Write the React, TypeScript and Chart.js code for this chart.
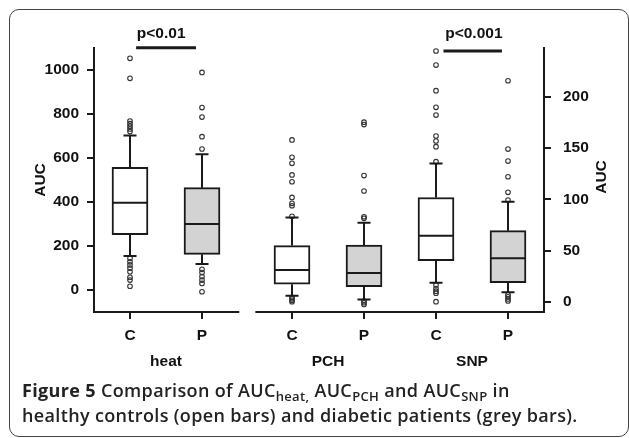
import React, { useEffect, useRef } from 'react';
import { Chart, registerables } from 'chart.js';

Chart.register(...registerables);

// ---------- data ----------
const groupLabels = ['heat', 'PCH', 'SNP'];
const groupCenters = [1.5, 3.75, 5.75];
const xTickLabels = ['C', 'P', 'C', 'P', 'C', 'P'];
const boxPositions = [1, 2, 3.25, 4.25, 5.25, 6.25];
const leftTicks = [0, 200, 400, 600, 800, 1000];
const rightTicks = [0, 50, 100, 150, 200];
const axisSegments = [[0.5, 2.504], [2.755, 6.75]];

// left axis boxes: heat C, heat P, PCH C, PCH P
const leftBoxIndex = [0, 1, 2, 3];
const leftLowerWhisker = [155, 118, -26, -43];
const leftQ1 = [251, 162, 26, 15];
const leftMedian = [397, 300, 91, 77];
const leftQ3 = [558, 465, 202, 204];
const leftUpperWhisker = [702, 617, 329, 306];

// right axis boxes: SNP C, SNP P
const rightBoxIndex = [4, 5];
const rightLowerWhisker = [18.8, 9.4];
const rightQ1 = [40.2, 18.8];
const rightMedian = [64.6, 42.5];
const rightQ3 = [101.8, 69.5];
const rightUpperWhisker = [135, 97.7];

// outliers
const outliersHeatC = [1053, 962, 768, 756, 744, 732, 720, 144, 128, 114, 99, 83, 58, 45, 17];
const outliersHeatP = [989, 829, 786, 697, 641, 94, 79, 61, 45, 30, -8];
const outliersPchC = [682, 603, 576, 523, 492, 421, 394, 383, 335, -33, -40, -47, -53];
const outliersPchP = [763, 752, 520, 450, 333, 326, -50, -58, -66];
const outliersSnpC = [244.5, 230.8, 205.8, 189.6, 182.1, 161.7, 156.8, 151.3, 136.7, 16.6, 13, 10.5, 8.5, 0.3];
const outliersSnpP = [215.5, 149, 137.3, 122, 106.8, 99.3, 7, 5, 3, 1];

// significance annotations
const sigLabels = ['p<0.01', 'p<0.001'];
const sigAxis = ['y', 'y2'];
const sigStart = [1.085, 5.354];
const sigEnd = [1.916, 6.166];
const sigLineValue = [1101, 244.5];
const sigTextCenter = [1.433, 5.776];
const sigTextValue = [1166, 261];

// ---------- styles ----------
const INK = '#1a1a1a';
const TEXT = '#111';
const OPEN_FILL = '#ffffff';
const GREY_FILL = '#d3d3d3';
const BOX_WIDTH = 36;
const CAP_HALF = 6.5;
const FONT_FAMILY = '"Liberation Sans", Arial, Helvetica, sans-serif';
const FONT_SIZE = 15.5;
const tickFont = { family: FONT_FAMILY, size: FONT_SIZE, weight: 'bold' as const };

const pts = (xi: number, vals: number[]) => vals.map((v) => ({ x: boxPositions[xi], y: v }));

const boxExtras = {
  id: 'boxExtras',
  afterDatasetsDraw(chart: any) {
    const { ctx, scales } = chart;
    const xs = scales.x;
    const drawSet = (axisId: string, idx: number[], lo: number[], q1: number[], med: number[], q3: number[], hi: number[]) => {
      const ys = scales[axisId];
      idx.forEach((bi, i) => {
        const cx = xs.getPixelForValue(boxPositions[bi]);
        ctx.save();
        ctx.strokeStyle = INK;
        ctx.lineWidth = 2;
        ctx.beginPath();
        // upper whisker
        ctx.moveTo(cx, ys.getPixelForValue(q3[i]));
        ctx.lineTo(cx, ys.getPixelForValue(hi[i]));
        ctx.moveTo(cx - CAP_HALF, ys.getPixelForValue(hi[i]));
        ctx.lineTo(cx + CAP_HALF, ys.getPixelForValue(hi[i]));
        // lower whisker
        ctx.moveTo(cx, ys.getPixelForValue(q1[i]));
        ctx.lineTo(cx, ys.getPixelForValue(lo[i]));
        ctx.moveTo(cx - CAP_HALF, ys.getPixelForValue(lo[i]));
        ctx.lineTo(cx + CAP_HALF, ys.getPixelForValue(lo[i]));
        // median
        ctx.moveTo(cx - BOX_WIDTH / 2, ys.getPixelForValue(med[i]));
        ctx.lineTo(cx + BOX_WIDTH / 2, ys.getPixelForValue(med[i]));
        ctx.stroke();
        ctx.restore();
      });
    };
    drawSet('y', leftBoxIndex, leftLowerWhisker, leftQ1, leftMedian, leftQ3, leftUpperWhisker);
    drawSet('y2', rightBoxIndex, rightLowerWhisker, rightQ1, rightMedian, rightQ3, rightUpperWhisker);
  },
  afterDraw(chart: any) {
    const { ctx, scales, chartArea } = chart;
    const xs = scales.x;
    ctx.save();
    // bottom axis segments
    ctx.strokeStyle = INK;
    ctx.lineWidth = 2;
    ctx.beginPath();
    axisSegments.forEach(([a, b]) => {
      ctx.moveTo(xs.getPixelForValue(a) - 1, chartArea.bottom);
      ctx.lineTo(xs.getPixelForValue(b) + 1, chartArea.bottom);
    });
    ctx.stroke();
    // group labels
    ctx.fillStyle = TEXT;
    ctx.font = `bold ${FONT_SIZE}px ${FONT_FAMILY}`;
    ctx.textAlign = 'center';
    ctx.textBaseline = 'middle';
    groupLabels.forEach((g, i) => {
      ctx.fillText(g, xs.getPixelForValue(groupCenters[i]), chartArea.bottom + 50);
    });
    // significance bars
    sigLabels.forEach((lab, i) => {
      const ys = scales[sigAxis[i]];
      ctx.lineWidth = 3;
      ctx.beginPath();
      ctx.moveTo(xs.getPixelForValue(sigStart[i]), ys.getPixelForValue(sigLineValue[i]));
      ctx.lineTo(xs.getPixelForValue(sigEnd[i]), ys.getPixelForValue(sigLineValue[i]));
      ctx.stroke();
      ctx.fillText(lab, xs.getPixelForValue(sigTextCenter[i]), ys.getPixelForValue(sigTextValue[i]));
    });
    // right axis title (reads bottom to top)
    const y2 = scales.y2;
    ctx.translate(y2.left + 58, (chartArea.top + chartArea.bottom) / 2 - 3);
    ctx.rotate(-Math.PI / 2);
    ctx.fillText('AUC', 0, 0);
    ctx.restore();
  },
};

export default function App() {
  const ref = useRef<HTMLCanvasElement>(null);

  useEffect(() => {
    const chart = new Chart(ref.current as HTMLCanvasElement, {
      type: 'bar',
      data: {
        datasets: [
          {
            type: 'bar',
            yAxisID: 'y',
            grouped: false,
            barThickness: BOX_WIDTH,
            borderWidth: 2,
            borderColor: INK,
            borderSkipped: false,
            backgroundColor: [OPEN_FILL, GREY_FILL, OPEN_FILL, GREY_FILL],
            data: leftBoxIndex.map((bi, i) => ({ x: boxPositions[bi], y: [leftQ1[i], leftQ3[i]] })),
          } as any,
          {
            type: 'bar',
            yAxisID: 'y2',
            grouped: false,
            barThickness: BOX_WIDTH,
            borderWidth: 2,
            borderColor: INK,
            borderSkipped: false,
            backgroundColor: [OPEN_FILL, GREY_FILL],
            data: rightBoxIndex.map((bi, i) => ({ x: boxPositions[bi], y: [rightQ1[i], rightQ3[i]] })),
          } as any,
          ...[
            { axis: 'y', data: [...pts(0, outliersHeatC), ...pts(1, outliersHeatP), ...pts(2, outliersPchC), ...pts(3, outliersPchP)] },
            { axis: 'y2', data: [...pts(4, outliersSnpC), ...pts(5, outliersSnpP)] },
          ].map((d) => ({
            type: 'scatter',
            yAxisID: d.axis,
            data: d.data,
            pointRadius: 2.3,
            pointBorderWidth: 1.1,
            pointBorderColor: '#333',
            pointBackgroundColor: 'rgba(0,0,0,0)',
            clip: false,
          } as any)),
        ],
      },
      options: {
        responsive: false,
        animation: false,
        layout: { padding: { top: 48, left: 0, right: 0, bottom: 0 } },
        plugins: { legend: { display: false }, tooltip: { enabled: false } },
        scales: {
          x: {
            type: 'linear',
            min: 0.5,
            max: 6.75,
            offset: false,
            position: 'bottom',
            afterBuildTicks: (s: any) => {
              s.ticks = boxPositions.map((v) => ({ value: v }));
            },
            afterFit: (s: any) => {
              s.height = 68;
            },
            grid: { offset: false, drawOnChartArea: false, drawTicks: true, tickLength: 7, color: INK, lineWidth: 2 },
            border: { display: false },
            ticks: {
              autoSkip: false,
              maxRotation: 0,
              padding: 7,
              color: TEXT,
              font: tickFont,
              callback: (_v: any, i: number) => xTickLabels[i],
            },
          },
          y: {
            type: 'linear',
            position: 'left',
            min: -100,
            max: 1100,
            beginAtZero: false,
            afterBuildTicks: (s: any) => {
              s.ticks = leftTicks.map((v) => ({ value: v }));
            },
            afterFit: (s: any) => {
              s.width = 94;
            },
            grid: { drawOnChartArea: false, drawTicks: true, tickLength: 7, color: INK, lineWidth: 2 },
            border: { display: true, color: INK, width: 2 },
            ticks: { padding: 8, color: TEXT, font: tickFont, callback: (v: any) => String(v) },
            title: { display: true, text: 'AUC', color: TEXT, font: tickFont, padding: { top: 31, bottom: 0 } },
          },
          y2: {
            type: 'linear',
            position: 'right',
            min: -9.74,
            max: 247.4,
            beginAtZero: false,
            afterBuildTicks: (s: any) => {
              s.ticks = rightTicks.map((v) => ({ value: v }));
            },
            afterFit: (s: any) => {
              s.width = 85;
            },
            grid: { drawOnChartArea: false, drawTicks: true, tickLength: 7, color: INK, lineWidth: 2 },
            border: { display: true, color: INK, width: 2 },
            ticks: { padding: 12, color: TEXT, font: tickFont, callback: (v: any) => String(v) },
          },
        },
      } as any,
      plugins: [boxExtras],
    });
    return () => chart.destroy();
  }, []);

  const subStyle: React.CSSProperties = { fontSize: 13, verticalAlign: '-4px', lineHeight: 0 };

  return (
    <div style={{ position: 'absolute', left: 0, top: 0, width: 629, height: 438, background: '#fff', overflow: 'hidden' }}>
      <div
        style={{
          position: 'absolute',
          left: 9,
          top: 9,
          width: 620,
          height: 428,
          border: '1.5px solid #444',
          borderRadius: 10,
          boxSizing: 'border-box',
        }}
      />
      <canvas ref={ref} width={629} height={380} style={{ position: 'absolute', left: 0, top: 0, width: 629, height: 380 }} />
      <div
        style={{
          position: 'absolute',
          left: 22,
          top: 378,
          fontFamily: '"Open Sans", "Noto Sans", sans-serif',
          fontSize: 18,
          lineHeight: '25px',
          fontWeight: 600,
          letterSpacing: '0.35px',
          color: '#222',
          whiteSpace: 'nowrap',
        }}
      >
        <div>
          <span style={{ fontWeight: 700 }}>Figure 5</span> Comparison of AUC<span style={subStyle}>heat,</span> AUC
          <span style={subStyle}>PCH</span> and AUC<span style={subStyle}>SNP</span> in
        </div>
        <div>healthy controls (open bars) and diabetic patients (grey bars).</div>
      </div>
    </div>
  );
}
